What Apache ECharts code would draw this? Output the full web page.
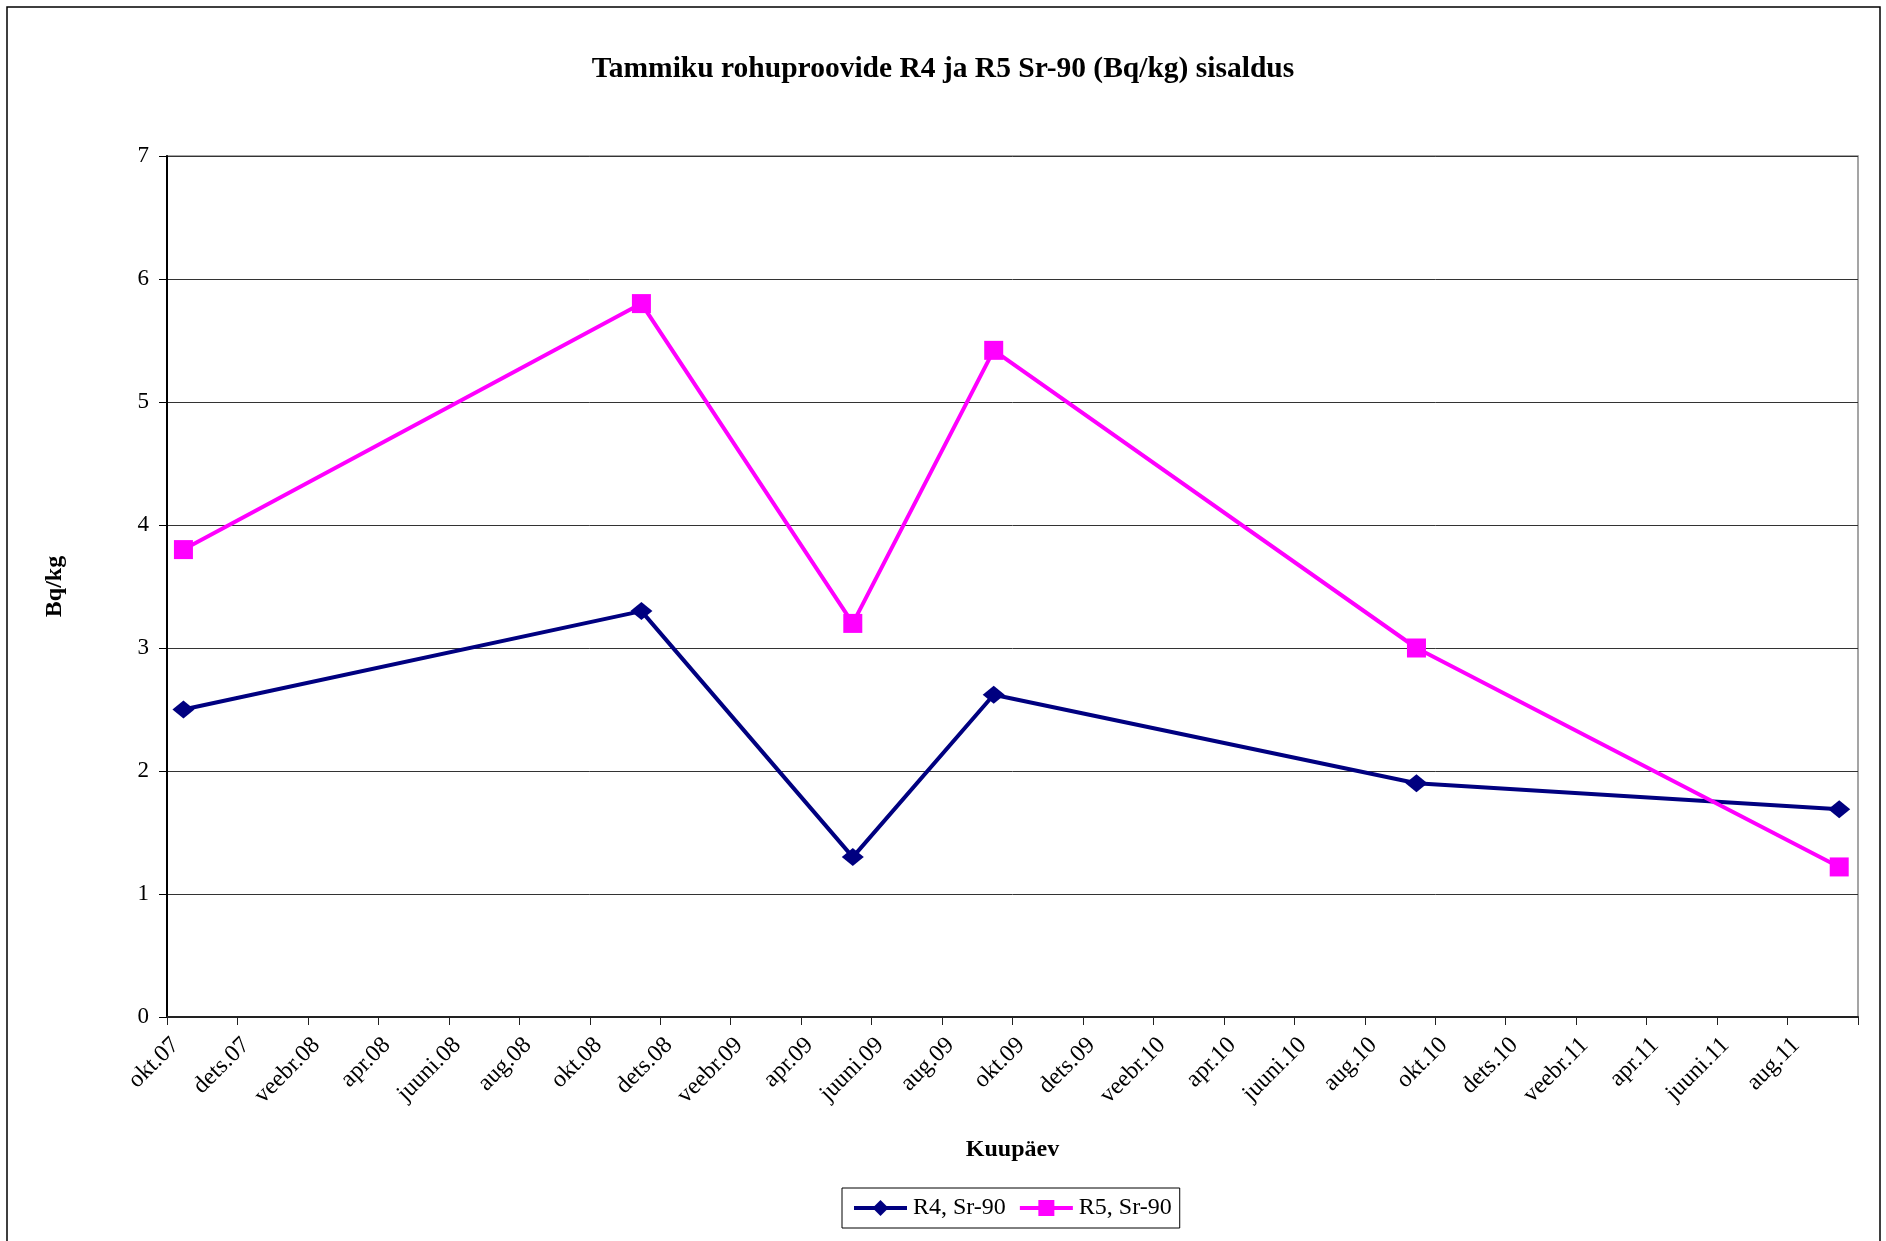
<!DOCTYPE html>
<html>
<head>
<meta charset="utf-8">
<script src="https://cdn.jsdelivr.net/npm/echarts@6/dist/echarts.min.js"></script>
<style>
  html, body { margin: 0; padding: 0; background: #fff; }
  #main { width: 1886px; height: 1241px; }
</style>
</head>
<body>
<div id="main"></div>
<script>
// proovide kuupäevad
const sampleDates = ['2007-10-15', '2008-11-15', '2009-05-15', '2009-09-15', '2010-09-15', '2011-09-15'];
const r4Values = [2.5, 3.3, 1.3, 2.62, 1.9, 1.69];
const r5Values = [3.8, 5.8, 3.2, 5.42, 3.0, 1.22];
// x-telje märgendid iga 2 kuu järel alates okt.07
const tickLabels = ['okt.07', 'dets.07', 'veebr.08', 'apr.08', 'juuni.08', 'aug.08', 'okt.08', 'dets.08',
  'veebr.09', 'apr.09', 'juuni.09', 'aug.09', 'okt.09', 'dets.09', 'veebr.10', 'apr.10', 'juuni.10',
  'aug.10', 'okt.10', 'dets.10', 'veebr.11', 'apr.11', 'juuni.11', 'aug.11'];

const FONT = '"Liberation Serif", "Times New Roman", serif';

// kuud alates 2007 oktoobrist
const toMonth = (s) => {
  const [y, m, d] = s.split('-').map(Number);
  return (y - 2007) * 12 + (m - 10) + (d - 1) / 30;
};

const r4Data = sampleDates.map((d, i) => [toMonth(d), r4Values[i]]);
const r5Data = sampleDates.map((d, i) => [toMonth(d), r5Values[i]]);

const chart = echarts.init(document.getElementById('main'));
const option = {
  animation: false,
  backgroundColor: '#fff',
  title: {
    text: 'Tammiku rohuproovide R4 ja R5 Sr-90 (Bq/kg) sisaldus',
    left: 'center',
    top: 49,
    textStyle: { fontFamily: FONT, fontSize: 29.5, fontWeight: 'bold', color: '#000' }
  },
  graphic: [
    {
      type: 'rect',
      shape: { x: 7, y: 7, width: 1873, height: 1300 },
      style: { fill: 'none', stroke: '#000', lineWidth: 1.5 },
      silent: true
    }
  ],
  legend: {
    left: 842,
    top: 1188,
    itemWidth: 53,
    itemHeight: 20,
    itemGap: 12,
    padding: [8, 8, 8, 10],
    borderColor: '#000',
    borderWidth: 1,
    lineStyle: { width: 4 },
    textStyle: { fontFamily: FONT, fontSize: 24, color: '#000', padding: [0, 0, 0, 1] },
    data: ['R4, Sr-90', 'R5, Sr-90']
  },
  grid: {
    left: 167,
    right: 28,
    top: 156,
    bottom: 224,
    show: true,
    borderColor: '#888',
    borderWidth: 1.5
  },
  xAxis: {
    type: 'value',
    min: 0,
    max: 48,
    interval: 2,
    name: 'Kuupäev',
    nameLocation: 'middle',
    nameGap: 121,
    nameTextStyle: { fontFamily: FONT, fontSize: 24, fontWeight: 'bold', color: '#000' },
    axisLine: { lineStyle: { color: '#222', width: 2 } },
    axisTick: { length: 8, lineStyle: { color: '#222', width: 1 } },
    axisLabel: {
      rotate: 45,
      margin: 16,
      align: 'right',
      verticalAlign: 'top',
      fontFamily: FONT,
      fontSize: 24,
      color: '#000',
      showMaxLabel: true,
      formatter: (v) => tickLabels[v / 2] || ''
    },
    splitLine: { show: false }
  },
  yAxis: {
    type: 'value',
    min: 0,
    max: 7,
    interval: 1,
    name: 'Bq/kg',
    nameLocation: 'middle',
    nameGap: 100,
    nameRotate: 90,
    nameTextStyle: { fontFamily: FONT, fontSize: 24, fontWeight: 'bold', color: '#000' },
    axisLine: { show: true, lineStyle: { color: '#000', width: 2 } },
    axisTick: { show: true, length: 8, lineStyle: { color: '#000', width: 1 } },
    axisLabel: { margin: 18, fontFamily: FONT, fontSize: 23, color: '#000' },
    splitLine: { lineStyle: { color: '#333', width: 1 } }
  },
  series: [
    {
      name: 'R4, Sr-90',
      type: 'line',
      data: r4Data,
      symbol: 'diamond',
      symbolSize: [22, 18],
      color: '#000080',
      lineStyle: { color: '#000080', width: 4 },
      itemStyle: { color: '#000080' }
    },
    {
      name: 'R5, Sr-90',
      type: 'line',
      data: r5Data,
      symbol: 'rect',
      symbolSize: 19,
      color: '#FF00FF',
      lineStyle: { color: '#FF00FF', width: 4 },
      itemStyle: { color: '#FF00FF' }
    }
  ]
};
chart.setOption(option);
</script>
</body>
</html>
